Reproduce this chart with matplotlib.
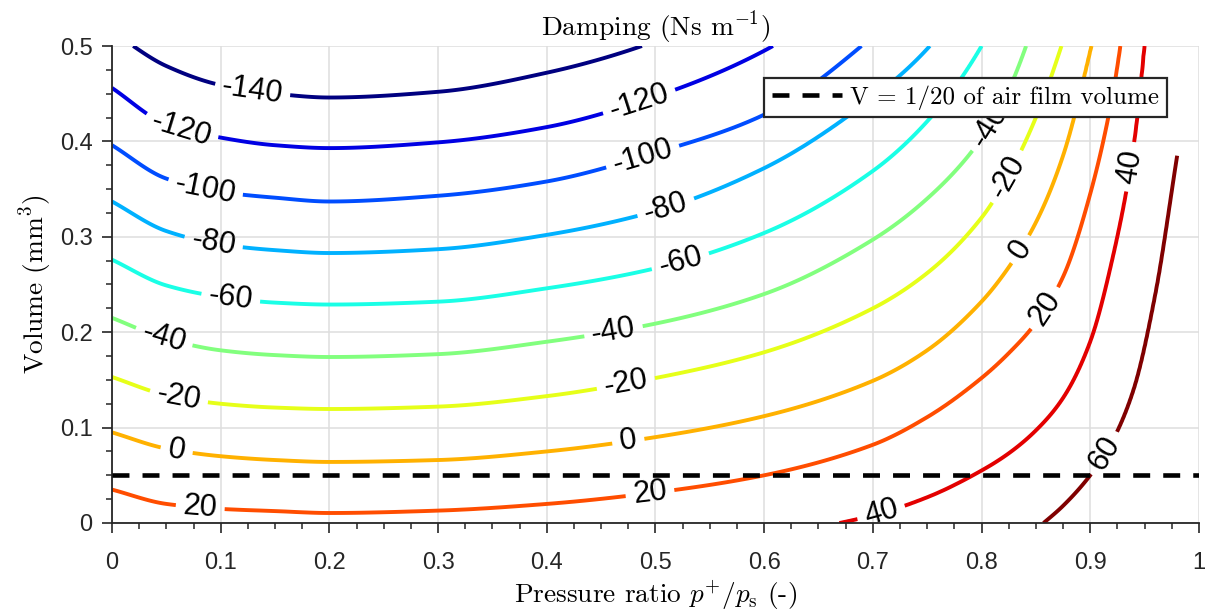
import numpy as np
import matplotlib
matplotlib.use("Agg")
import matplotlib.pyplot as plt
from matplotlib.colors import LinearSegmentedColormap
from matplotlib.ticker import MultipleLocator, FuncFormatter

plt.rcParams['font.family'] = ['Liberation Sans', 'DejaVu Sans']
plt.rcParams['mathtext.fontset'] = 'cm'
plt.rcParams['axes.unicode_minus'] = False

# pressure ratio columns where the contour heights were read
p_ratio = [0, 0.05, 0.1, 0.15, 0.2, 0.3, 0.4, 0.5, 0.6, 0.7, 0.75,
           0.8, 0.825, 0.85, 0.875, 0.9, 0.92, 0.94, 0.96, 0.98]

# volume (mm^3) where damping equals each level, per column
# (values outside 0..0.5 are estimates just beyond the plotted window)
damp_levels = [80, 60, 40, 20, 0, -20, -40, -60, -80, -100, -120, -140, -160]
vol_at_level = [
    [-0.145, -0.155, -0.158, -0.16, -0.16, -0.16, -0.16, -0.16, -0.16, -0.16, -0.155,
     -0.14, -0.13, -0.12, -0.1, -0.09, -0.08, -0.06, -0.04, -0.02],
    [-0.085, -0.095, -0.098, -0.099, -0.1, -0.1, -0.1, -0.1, -0.098, -0.092, -0.082,
     -0.057, -0.034, -0.007, 0.018, 0.05, 0.085, 0.14, 0.24, 0.385],
    [-0.025, -0.038, -0.043, -0.046, -0.047, -0.046, -0.040, -0.030, -0.014, 0.008, 0.027,
     0.055, 0.073, 0.097, 0.131, 0.19, 0.275, 0.396, 0.62, 0.8],
    [0.035, 0.020, 0.0148, 0.0125, 0.0105, 0.013, 0.020, 0.032, 0.050, 0.082, 0.111,
     0.152, 0.178, 0.21, 0.258, 0.345, 0.445, 0.6, 0.75, 0.88],
    [0.095, 0.078, 0.070, 0.066, 0.064, 0.066, 0.075, 0.090, 0.112, 0.149, 0.181,
     0.232, 0.268, 0.315, 0.385, 0.495, 0.6, 0.72, 0.84, 0.95],
    [0.153, 0.134, 0.125, 0.121, 0.1195, 0.122, 0.133, 0.152, 0.179, 0.225, 0.262,
     0.32, 0.365, 0.425, 0.505, 0.6, 0.72, 0.83, 0.94, 1.04],
    [0.215, 0.193, 0.181, 0.176, 0.174, 0.177, 0.19, 0.209, 0.240, 0.297, 0.340,
     0.403, 0.454, 0.53, 0.63, 0.74, 0.84, 0.94, 1.04, 1.13],
    [0.276, 0.249, 0.237, 0.231, 0.229, 0.232, 0.246, 0.267, 0.304, 0.369, 0.421,
     0.50, 0.56, 0.63, 0.72, 0.82, 0.92, 1.02, 1.12, 1.2],
    [0.337, 0.306, 0.292, 0.286, 0.283, 0.287, 0.302, 0.327, 0.372, 0.446, 0.497,
     0.575, 0.63, 0.70, 0.79, 0.89, 0.99, 1.09, 1.19, 1.28],
    [0.396, 0.361, 0.347, 0.341, 0.337, 0.343, 0.358, 0.388, 0.428, 0.51, 0.565,
     0.645, 0.70, 0.77, 0.86, 0.96, 1.06, 1.16, 1.26, 1.35],
    [0.456, 0.418, 0.404, 0.396, 0.393, 0.399, 0.415, 0.447, 0.495, 0.575, 0.63,
     0.71, 0.77, 0.84, 0.93, 1.03, 1.13, 1.23, 1.33, 1.42],
    [0.515, 0.479, 0.459, 0.450, 0.446, 0.452, 0.472, 0.505, 0.56, 0.645, 0.70,
     0.78, 0.84, 0.91, 1.0, 1.1, 1.2, 1.3, 1.4, 1.49],
    [0.575, 0.54, 0.515, 0.506, 0.50, 0.506, 0.53, 0.57, 0.63, 0.72, 0.77,
     0.85, 0.91, 0.98, 1.07, 1.17, 1.27, 1.37, 1.47, 1.56],
]

contour_levels = [-140, -120, -100, -80, -60, -40, -20, 0, 20, 40, 60]
label_spots = [(0.129, 0.451), (0.064, 0.414), (0.486, 0.438), (0.086, 0.351), (0.487, 0.389),
               (0.093, 0.291), (0.509, 0.333), (0.109, 0.234), (0.523, 0.274),
               (0.046, 0.187), (0.462, 0.197), (0.81, 0.414),
               (0.061, 0.129), (0.473, 0.145), (0.828, 0.36),
               (0.059, 0.073), (0.475, 0.086), (0.837, 0.286),
               (0.081, 0.014), (0.495, 0.031), (0.861, 0.223),
               (0.707, 0.014), (0.939, 0.373), (0.916, 0.071)]

v_film = 0.05


def pchip(xk, yk, x):
    # monotone cubic (Fritsch-Carlson) so the read curves come out smooth
    xk = np.asarray(xk, float)
    yk = np.asarray(yk, float)
    h = np.diff(xk)
    delta = np.diff(yk) / h
    d = np.zeros_like(yk)
    d[0], d[-1] = delta[0], delta[-1]
    for k in range(1, len(xk) - 1):
        if delta[k - 1] * delta[k] > 0:
            w1 = 2 * h[k] + h[k - 1]
            w2 = h[k] + 2 * h[k - 1]
            d[k] = (w1 + w2) / (w1 / delta[k - 1] + w2 / delta[k])
    i = np.clip(np.searchsorted(xk, x) - 1, 0, len(xk) - 2)
    t = (x - xk[i]) / h[i]
    h00 = 2 * t**3 - 3 * t**2 + 1
    h10 = t**3 - 2 * t**2 + t
    h01 = -2 * t**3 + 3 * t**2
    h11 = t**3 - t**2
    return h00 * yk[i] + h10 * h[i] * d[i] + h01 * yk[i + 1] + h11 * h[i] * d[i + 1]


# build the damping field from the read level heights
xg = np.linspace(0, p_ratio[-1], 600)
vg = np.linspace(0, 0.5, 500)
curves = np.array([pchip(p_ratio, row, xg) for row in vol_at_level])
Z = np.zeros((len(vg), len(xg)))
for j in range(len(xg)):
    Z[:, j] = np.interp(vg, curves[:, j], damp_levels)
X, V = np.meshgrid(xg, vg)

# MATLAB style jet
jet_m = LinearSegmentedColormap.from_list('jet_m', [
    (0, (0, 0, 0.5)), (0.125, (0, 0, 1)), (0.375, (0, 1, 1)),
    (0.625, (1, 1, 0)), (0.875, (1, 0, 0)), (1, (0.5, 0, 0))])

fig = plt.figure(figsize=(12.11, 6.15), dpi=100)
ax = fig.add_axes([0.0925, 0.1496, 0.8975, 0.7756])

cs = ax.contour(X, V, Z, levels=contour_levels, cmap=jet_m, vmin=-140, vmax=60,
                linewidths=2.8)
ax.clabel(cs, inline=True, fontsize=22, fmt='%d', manual=label_spots,
          inline_spacing=8, colors='black')

film, = ax.plot([0, 1], [v_film, v_film], color='black', lw=3.3,
                dashes=(3.7, 2.85), zorder=3)

ax.set_xlim(0, 1)
ax.set_ylim(0, 0.5)
ax.xaxis.set_major_locator(MultipleLocator(0.1))
ax.xaxis.set_minor_locator(MultipleLocator(0.025))
ax.yaxis.set_major_locator(MultipleLocator(0.1))
ax.yaxis.set_minor_locator(MultipleLocator(0.025))
fmt = FuncFormatter(lambda v, pos: '%g' % round(v, 3))
ax.xaxis.set_major_formatter(fmt)
ax.yaxis.set_major_formatter(fmt)
ax.grid(True, which='major', color='#dedede', lw=1.1)
ax.set_axisbelow(True)
for s in ['top', 'right']:
    ax.spines[s].set_visible(False)
for s in ['left', 'bottom']:
    ax.spines[s].set_color('#262626')
    ax.spines[s].set_linewidth(1.3)
ax.tick_params(which='major', direction='out', length=7, width=1.2, color='#262626',
               labelsize=17, labelcolor='#262626')
ax.tick_params(which='minor', direction='out', length=4, width=1.1, color='#262626')
ax.tick_params(axis='x', which='major', pad=14)
ax.tick_params(axis='y', which='major', pad=7)

ax.set_title('Damping (Ns m$^{-1}$)', fontfamily='cmr10', fontsize=19.7, pad=7)
ax.set_xlabel('Pressure ratio $p^{+}/p_{\\mathrm{s}}$ (-)', fontfamily='cmr10',
              fontsize=19.7, labelpad=3)
ax.set_ylabel('Volume (mm$^{3}$)', fontfamily='cmr10', fontsize=19.7, labelpad=4)

leg = ax.legend([film], ['V = 1/20 of air film volume'], loc='upper right',
                bbox_to_anchor=(0.9706, 0.933), borderaxespad=0, fancybox=False,
                framealpha=1, edgecolor='#262626', handlelength=2.8,
                handletextpad=0.35, borderpad=0.3,
                prop={'family': 'cmr10', 'size': 18})
leg.get_frame().set_linewidth(1.6)

fig.savefig('out.png', dpi=100)
